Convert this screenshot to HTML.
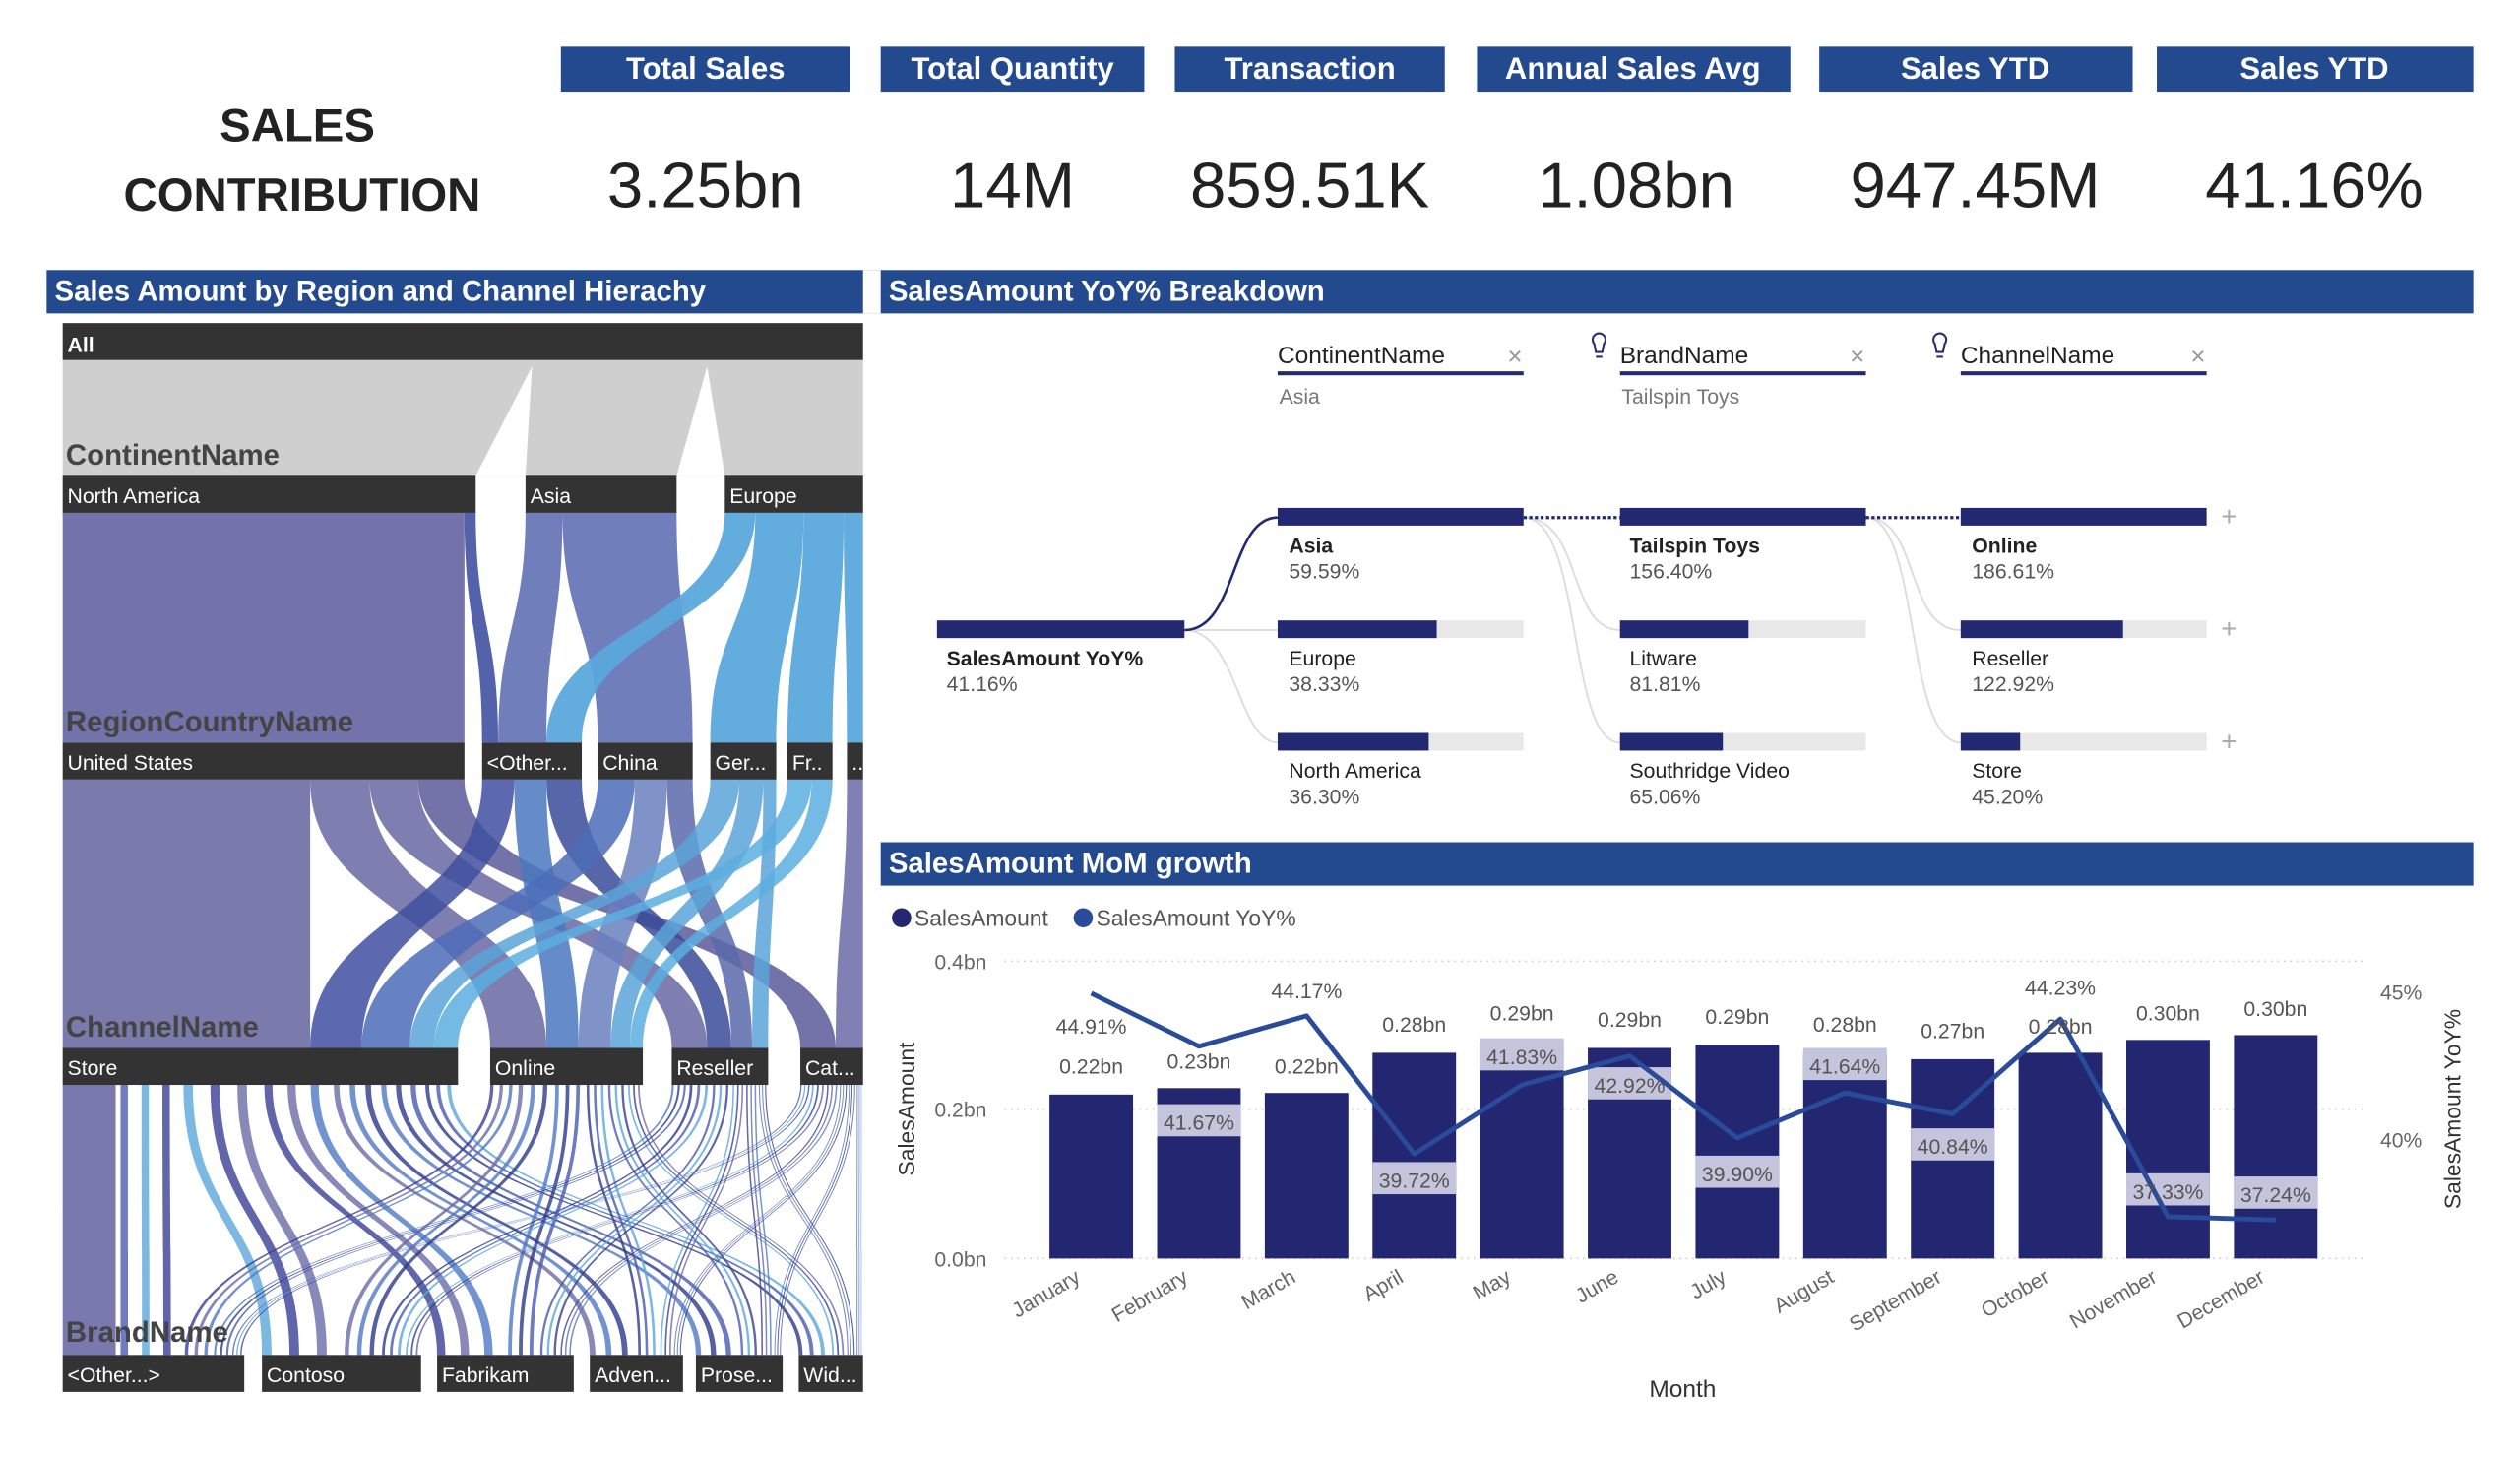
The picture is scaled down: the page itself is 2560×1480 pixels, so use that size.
<!DOCTYPE html>
<html><head><meta charset="utf-8"><style>
html,body{margin:0;padding:0;background:#fff;width:2560px;height:1480px;overflow:hidden}
svg{display:block}
text{font-family:"Liberation Sans",sans-serif}
</style></head><body>
<svg id="s" width="2560" height="1480" viewBox="0 0 1568 906.5" preserveAspectRatio="none" xmlns="http://www.w3.org/2000/svg">
<rect width="1568" height="907" fill="#fff"/>
<g fill="#234a8f">
<rect x="349" y="29" width="180" height="28"/><rect x="548" y="29" width="164" height="28"/>
<rect x="731" y="29" width="168" height="28"/><rect x="919" y="29" width="195" height="28"/>
<rect x="1132" y="29" width="195" height="28"/><rect x="1342" y="29" width="197" height="28"/>
</g>
<g fill="#fff" font-size="19" font-weight="bold" text-anchor="middle">
<text x="439" y="49">Total Sales</text><text x="630" y="49">Total Quantity</text>
<text x="815" y="49">Transaction</text><text x="1016" y="49">Annual Sales Avg</text>
<text x="1229" y="49">Sales YTD</text><text x="1440" y="49">Sales YTD</text>
</g>
<g fill="#222" font-size="40" text-anchor="middle">
<text x="439" y="129">3.25bn</text><text x="630" y="129">14M</text>
<text x="815" y="129">859.51K</text><text x="1018" y="129">1.08bn</text>
<text x="1229" y="129">947.45M</text><text x="1440" y="129">41.16%</text>
</g>
<g fill="#222" font-size="29" font-weight="bold" text-anchor="middle">
<text x="185" y="88">SALES</text><text x="188" y="131">CONTRIBUTION</text>
</g>
<rect x="29" y="168" width="1510" height="27" fill="#234a8f"/>
<rect x="537" y="168" width="11" height="27" fill="#fff"/>
<text x="34" y="187" fill="#fff" font-size="18" font-weight="bold">Sales Amount by Region and Channel Hierachy</text>
<text x="553" y="187" fill="#fff" font-size="18" font-weight="bold">SalesAmount YoY% Breakdown</text>
<rect x="548" y="524" width="991" height="27" fill="#234a8f"/>
<text x="553" y="543" fill="#fff" font-size="18" font-weight="bold">SalesAmount MoM growth</text>

<g id="sk"></g>
<g id="sklab"></g>

<g font-size="15" fill="#222">
<text x="795" y="226">ContinentName</text><text x="1008" y="226">BrandName</text><text x="1220" y="226">ChannelName</text>
</g>
<g fill="#999" font-size="16"><text x="938" y="227">×</text><text x="1151" y="227">×</text><text x="1363" y="227">×</text></g>
<g fill="none" stroke="#2a2f70" stroke-width="1.3"><path d="M992 214 a4 4 0 1 1 6 0 l-1 5 h-4z M993 222 h4"/><path d="M1204 214 a4 4 0 1 1 6 0 l-1 5 h-4z M1205 222 h4"/></g>
<g fill="#232970"><rect x="795" y="231" width="153" height="2.5"/><rect x="1008" y="231" width="153" height="2.5"/><rect x="1220" y="231" width="153" height="2.5"/></g>
<g fill="#777" font-size="13"><text x="796" y="251">Asia</text><text x="1009" y="251">Tailspin Toys</text></g>
<g fill="none" stroke="#ddd" stroke-width="1.2">
<path d="M737 392 H795"/><path d="M737 392 C770 392 770 462 795 462"/>
<path d="M948 322 C985 322 975 392 1008 392"/><path d="M948 322 C985 322 975 462 1008 462"/>
<path d="M1161 322 C1195 322 1185 392 1220 392"/><path d="M1161 322 C1195 322 1185 462 1220 462"/>
</g>
<path d="M737 392 C770 392 765 322 795 322" stroke="#232970" stroke-width="1.6" fill="none"/>
<path d="M948 322 H1008 M1161 322 H1220" stroke="#232970" stroke-width="2" stroke-dasharray="2 1.5" fill="none"/>
<g fill="#e8e8e8">
<rect x="795" y="386" width="153" height="11"/><rect x="795" y="456" width="153" height="11"/>
<rect x="1008" y="386" width="153" height="11"/><rect x="1008" y="456" width="153" height="11"/>
<rect x="1220" y="386" width="153" height="11"/><rect x="1220" y="456" width="153" height="11"/>
</g>
<g fill="#232970">
<rect x="583" y="386" width="154" height="11"/>
<rect x="795" y="316" width="153" height="11"/><rect x="795" y="386" width="99" height="11"/><rect x="795" y="456" width="94" height="11"/>
<rect x="1008" y="316" width="153" height="11"/><rect x="1008" y="386" width="80" height="11"/><rect x="1008" y="456" width="64" height="11"/>
<rect x="1220" y="316" width="153" height="11"/><rect x="1220" y="386" width="101" height="11"/><rect x="1220" y="456" width="37" height="11"/>
</g>
<g font-size="13" fill="#222">
<text x="589" y="414" font-weight="bold">SalesAmount YoY%</text><text x="589" y="430" fill="#555">41.16%</text>
<text x="802" y="344" font-weight="bold">Asia</text><text x="802" y="360" fill="#555">59.59%</text>
<text x="802" y="414">Europe</text><text x="802" y="430" fill="#555">38.33%</text>
<text x="802" y="484">North America</text><text x="802" y="500" fill="#555">36.30%</text>
<text x="1014" y="344" font-weight="bold">Tailspin Toys</text><text x="1014" y="360" fill="#555">156.40%</text>
<text x="1014" y="414">Litware</text><text x="1014" y="430" fill="#555">81.81%</text>
<text x="1014" y="484">Southridge Video</text><text x="1014" y="500" fill="#555">65.06%</text>
<text x="1227" y="344" font-weight="bold">Online</text><text x="1227" y="360" fill="#555">186.61%</text>
<text x="1227" y="414">Reseller</text><text x="1227" y="430" fill="#555">122.92%</text>
<text x="1227" y="484">Store</text><text x="1227" y="500" fill="#555">45.20%</text>
</g>
<g fill="#aaa" font-size="17"><text x="1382" y="327">+</text><text x="1382" y="397">+</text><text x="1382" y="467">+</text></g>

<circle cx="561" cy="571" r="6" fill="#232970"/><circle cx="674" cy="571" r="6" fill="#2a4a9a"/>
<text x="569" y="576" font-size="14" fill="#555">SalesAmount</text><text x="682" y="576" font-size="14" fill="#555">SalesAmount YoY%</text>
<g stroke="#ccc" stroke-dasharray="1 3" stroke-width="1"><path d="M625 598 H1470 M625 690 H1470 M625 783 H1470"/></g>
<g font-size="13" fill="#666" text-anchor="end"><text x="614" y="603">0.4bn</text><text x="614" y="695">0.2bn</text><text x="614" y="788">0.0bn</text></g>
<g font-size="13" fill="#666"><text x="1481" y="622">45%</text><text x="1481" y="714">40%</text></g>
<text transform="translate(569,690) rotate(-90)" font-size="14" fill="#333" text-anchor="middle">SalesAmount</text>
<text transform="translate(1531,690) rotate(-90)" font-size="14" fill="#333" text-anchor="middle">SalesAmount YoY%</text>
<text x="1047" y="869" font-size="15" fill="#333" text-anchor="middle">Month</text>
<g id="ch"></g>
</svg>
<script>
const NS="http://www.w3.org/2000/svg";
function el(p,t,a,txt){const e=document.createElementNS(NS,t);for(const k in a)e.setAttribute(k,a[k]);if(txt!==undefined)e.textContent=txt;p.appendChild(e);return e;}
const sk=document.getElementById('sk'),sl=document.getElementById('sklab');
function band(a0,a1,y0,b0,b1,y1,c,op){const m=(y0+y1)/2;
el(sk,'path',{d:`M${a0} ${y0} C${a0} ${m} ${b0} ${m} ${b0} ${y1} L${b1} ${y1} C${b1} ${m} ${a1} ${m} ${a1} ${y0} Z`,fill:c,'fill-opacity':op||0.9});}
el(sk,'rect',{x:39,y:224,width:498,height:72,fill:'#cfcfcf'});
el(sk,'path',{d:'M296 296 L327 296 L331 228 Z',fill:'#fff'});
el(sk,'path',{d:'M421 296 L451 296 L440 228 Z',fill:'#fff'});
[[39,289,39,289,'#6b6aa6'],[289,296,300,310,'#4a5aa5'],[327,350,310,340,'#6878b8'],[350,421,372,431,'#6878b8'],
[451,470,340,362,'#5aa8dc'],[470,500,442,483,'#5aa8dc'],[500,525,490,518,'#5aa8dc'],[525,537,527,537,'#5aa8dc']]
.forEach(f=>band(f[0],f[1],318,f[2],f[3],462,f[4],0.95));
[[39,193,39,193,'#63639f'],[193,230,305,340,'#6767a3'],[230,260,418,440,'#6767a3'],[260,289,498,520,'#5b5b9b'],
[300,320,193,225,'#3f4fa0'],[320,340,340,360,'#4a78c0'],[340,362,440,455,'#3a4a9a'],
[372,395,225,255,'#4c6cb8'],[395,415,360,380,'#6a80c0'],[415,431,455,468,'#5a6aaa'],
[442,460,255,270,'#5aa3d8'],[460,475,380,392,'#5aa3d8'],[475,483,468,478,'#5aa3d8'],
[490,505,270,285,'#5aaee0'],[505,518,392,400,'#5aaee0'],[527,537,520,537,'#6a6aa8']]
.forEach(f=>band(f[0],f[1],485,f[2],f[3],652,f[4],0.85));
band(39,72,675,39,72,843,'#6a6aa6',0.9);
const ch=[[75,285],[305,400],[418,478],[498,537]],br=[[75,152],[163,262],[272,357],[367,425],[433,487],[497,537]];
const cols=['#4a5ab0','#5aa8dc','#3a3f95','#6a6aa8','#4d78c4','#2c3a8a'];
const bw=br.map(b=>b[1]-b[0]),cw=ch.map(c=>c[1]-c[0]),BT=bw.reduce((a,b)=>a+b),CT=cw.reduce((a,b)=>a+b);
const bpos=br.map(b=>b[0]);
ch.forEach((c,i)=>{let p=c[0];br.forEach((b,j)=>{const w1=cw[i]*bw[j]/BT,w2=bw[j]*cw[i]/CT;
const n=3;for(let k=0;k<n;k++){band(p+w1*k/n,p+w1*(k+0.35)/n,675,bpos[j]+w2*k/n,bpos[j]+w2*(k+0.35)/n,843,cols[(i*2+j+k)%6],0.8);}
p+=w1;bpos[j]+=w2;});});
function node(x,y,w,t){el(sl,'rect',{x:x,y:y,width:w,height:23,fill:'#333'});el(sl,'text',{x:x+3,y:y+17,'font-size':13,fill:'#fff'},t);}
node(39,201,498,'');el(sl,'text',{x:42,y:219,'font-size':13,fill:'#fff','font-weight':'bold'},'All');
node(39,296,257,'North America');node(327,296,94,'Asia');node(451,296,86,'Europe');
node(39,462,250,'United States');node(300,462,62,'<Other...');node(372,462,59,'China');node(442,462,41,'Ger...');node(490,462,28,'Fr..');node(527,462,10,'..');
node(39,652,246,'Store');node(305,652,95,'Online');node(418,652,60,'Reseller');node(498,652,39,'Cat...');
node(39,843,113,'<Other...>');node(163,843,99,'Contoso');node(272,843,85,'Fabrikam');node(367,843,58,'Adven...');node(433,843,54,'Prose...');node(497,843,40,'Wid...');
[['ContinentName',289],['RegionCountryName',455],['ChannelName',645],['BrandName',835]].forEach(l=>el(sl,'text',{x:41,y:l[1],'font-size':18,'font-weight':'bold',fill:'#444'},l[0]));
const cg=document.getElementById('ch');
const months=['January','February','March','April','May','June','July','August','September','October','November','December'];
const tops=[681,677,680,655,648,652,650,656,659,655,647,644];
const line=[618,651,632,718,675,657,708,680,693,634,757,759];
const vlab=['0.22bn','0.23bn','0.22bn','0.28bn','0.29bn','0.29bn','0.29bn','0.28bn','0.27bn','0.28bn','0.30bn','0.30bn'];
const vy=[663,660,663,637,630,634,632,637,641,638,630,627];
const pct={0:[44.91,638,0],1:[41.67,698,1],2:[44.17,616,0],3:[39.72,734,1],4:[41.83,657,1],5:[42.92,675,1],6:[39.90,730,1],7:[41.64,663,1],8:[40.84,713,1],9:[44.23,614,0],10:[37.33,741,1],11:[37.24,743,1]};
months.forEach((m,i)=>{const cx=679+67*i;
el(cg,'rect',{x:cx-26,y:tops[i],width:52,height:783-tops[i],fill:'#232670'});
const p=pct[i];if(p[2])el(cg,'rect',{x:cx-26,y:p[1]-11,width:52,height:20,fill:'#c4c4dc'});
el(cg,'text',{transform:`translate(${cx-6},${797}) rotate(-30)`,'font-size':13,fill:'#666','text-anchor':'end'},m);
});
let d='';line.forEach((y,i)=>{d+=(i?'L':'M')+(679+67*i)+' '+y;});
el(cg,'path',{d:d,fill:'none',stroke:'#2a4a9a','stroke-width':3,'stroke-linejoin':'round'});
months.forEach((m,i)=>{const cx=679+67*i;
el(cg,'text',{x:cx,y:vy[i]+5,'font-size':13,fill:'#555','text-anchor':'middle'},vlab[i]);
el(cg,'text',{x:cx,y:pct[i][1]+5,'font-size':13,fill:'#555','text-anchor':'middle'},pct[i][0].toFixed(2)+'%');});
</script>
</body></html>
